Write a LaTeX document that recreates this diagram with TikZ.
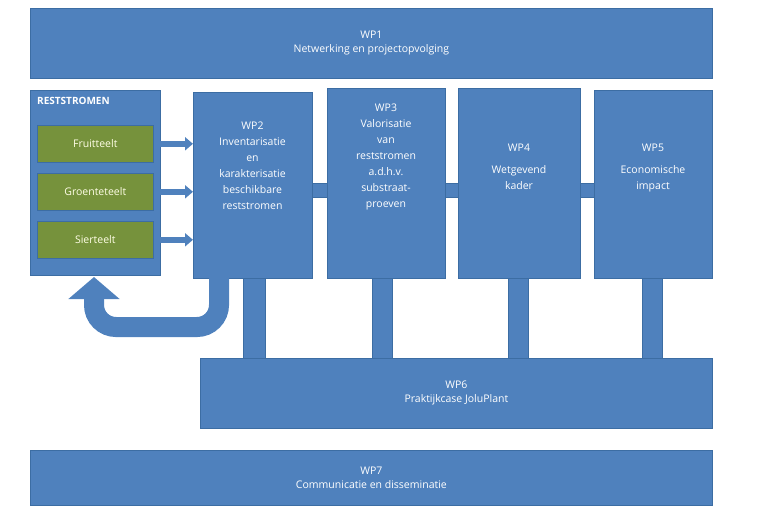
\documentclass[tikz,border=0pt]{standalone}
\usepackage{fontspec}
\setmainfont{Open Sans}
\usetikzlibrary{arrows.meta}
\definecolor{bl}{HTML}{4F81BD}
\definecolor{bd}{HTML}{3C6DA3}
\definecolor{gr}{HTML}{76923C}
\begin{document}
\begin{tikzpicture}[x=1pt,y=-1pt,
  box/.style={fill=bl,draw=bd,line width=0.8pt,text=white,font=\fontsize{10.5}{14}\selectfont,align=center,inner sep=0pt,anchor=north west},
  gbox/.style={fill=gr,draw=bd,line width=0.6pt,text=white!90!yellow,font=\fontsize{10.5}{13}\selectfont,inner sep=0pt,anchor=north west,minimum width=116pt,minimum height=37pt},
  bar/.style={fill=bl,draw=bd,line width=0.6pt},
  arr/.style={draw=bl,line width=6pt,-{Triangle[width=13pt,length=8pt]}}]
\useasboundingbox (0,0) rectangle (768,512);
% bars
\draw[bar] (312,183) rectangle (327,197);
\draw[bar] (445,183) rectangle (458,197);
\draw[bar] (580,183) rectangle (594,197);
\draw[bar] (243,276) rectangle (265,360);
\draw[bar] (372,276) rectangle (392,360);
\draw[bar] (508,276) rectangle (528,360);
\draw[bar] (642,276) rectangle (662,360);
\node[box,minimum width=682pt,minimum height=70pt] (wp1) at (30,8) {WP1\\Netwerking en projectopvolging};
\node[box,minimum width=512pt,minimum height=70pt] (wp6) at (200,358) {WP6\\Praktijkcase JoluPlant};
\node[box,minimum width=682pt,minimum height=55pt] (wp7) at (30,450) {WP7\\Communicatie en disseminatie};
\node[box,minimum width=130pt,minimum height=185pt] (rs) at (30,90) {};
\node[anchor=north west,text=white,font=\bfseries\fontsize{10}{12}\selectfont,inner sep=0pt] (rst) at (37,97) {RESTSTROMEN};
\node[gbox] (f) at (37,125) {Fruitteelt};
\node[gbox] (g) at (37,173) {Groenteteelt};
\node[gbox] (s) at (37,221) {Sierteelt};
\node[box,minimum width=119pt,minimum height=186pt] (wp2) at (193,92) {};
\node[text=white,font=\fontsize{10.5}{16}\selectfont,align=center,anchor=north] at (252.5,118) {WP2\\Inventarisatie\\en\\karakterisatie\\beschikbare\\reststromen};
\node[box,minimum width=118pt,minimum height=190pt] (wp3) at (327,88) {};
\node[text=white,font=\fontsize{10.5}{16}\selectfont,align=center,anchor=north] at (386,100) {WP3\\Valorisatie\\van\\reststromen\\a.d.h.v.\\substraat-\\proeven};
\node[box,minimum width=122pt,minimum height=190pt] (wp4) at (458,88) {};
\node[text=white,font=\fontsize{10.5}{16}\selectfont,align=center,anchor=north] at (519,140) {WP4\\[6pt]Wetgevend\\kader};
\node[box,minimum width=118pt,minimum height=188pt] (wp5) at (594,90) {};
\node[text=white,font=\fontsize{10.5}{16}\selectfont,align=center,anchor=north] at (653,140) {WP5\\[6pt]Economische\\impact};
\draw[arr] (f.east) -- (f.east -| wp2.west);
\draw[arr] (g.east) -- (g.east -| wp2.west);
\draw[arr] (s.east) -- (s.east -| wp2.west);
\coordinate (c1) at (219,327);
\coordinate (c2) at (94,327);
\draw[draw=bl,line width=20pt,rounded corners=22pt,-{Triangle[width=50pt,length=22pt]}]
  (219,278) -- (c1) -- (c2) -- (94,277);
\end{tikzpicture}
\end{document}
